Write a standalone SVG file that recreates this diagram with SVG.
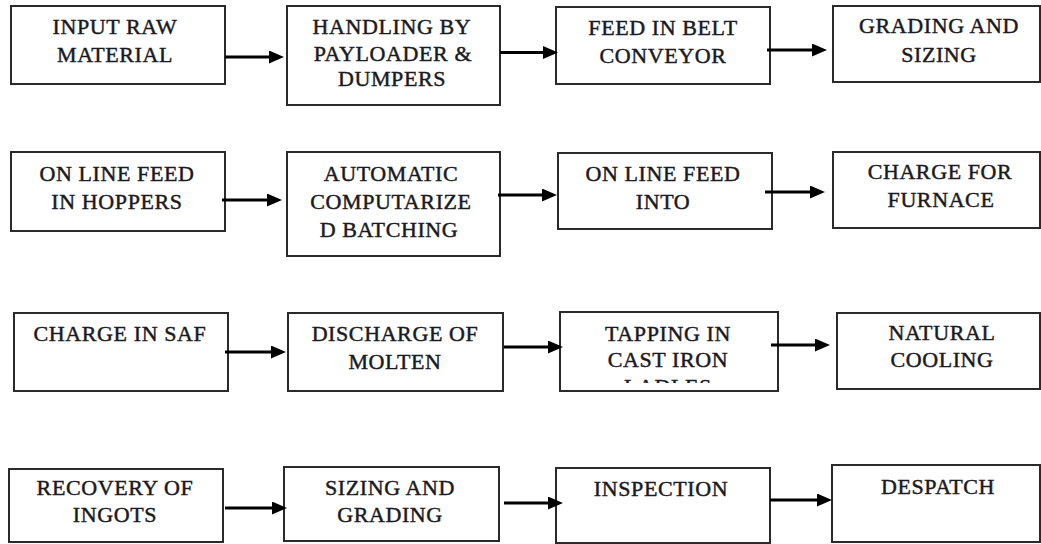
<svg xmlns="http://www.w3.org/2000/svg" width="1041" height="544" viewBox="0 0 1041 544">
  <style>
    .box { fill: #ffffff; stroke: #2a2a2a; stroke-width: 2; }
    .lbl { font-family: "Liberation Serif", "Times New Roman", serif; font-weight: normal; font-size: 22px; letter-spacing: 0.6px; fill: #1a1a22; stroke: #1a1a22; stroke-width: 0.45; text-anchor: middle; }
    .wire { fill: none; stroke: #000000; stroke-width: 3; marker-end: url(#head); }
  </style>
  <defs>
    <marker id="head" markerUnits="userSpaceOnUse" markerWidth="16" markerHeight="14" refX="3" refY="6.5" orient="auto">
      <path d="M0,0 L15,6.5 L0,13 Z" fill="#000000"/>
    </marker>
    <clipPath id="clipTapping">
      <rect x="560" y="312" width="218" height="71"/>
    </clipPath>
  </defs>

  <rect width="1041" height="544" fill="#ffffff"/>

  <!-- Row 1 -->
  <g id="input-raw-material">
    <rect class="box" x="11" y="6" width="214" height="78"/>
    <text class="lbl" x="115" y="34">INPUT RAW</text>
    <text class="lbl" x="115" y="62">MATERIAL</text>
  </g>
  <g id="handling-by-payloader">
    <rect class="box" x="287" y="6" width="213" height="99"/>
    <text class="lbl" x="392" y="34">HANDLING BY</text>
    <text class="lbl" x="393" y="61">PAYLOADER &amp;</text>
    <text class="lbl" x="392" y="86">DUMPERS</text>
  </g>
  <g id="feed-in-belt-conveyor">
    <rect class="box" x="556" y="7" width="214" height="77"/>
    <text class="lbl" x="663" y="35">FEED IN BELT</text>
    <text class="lbl" x="663" y="63">CONVEYOR</text>
  </g>
  <g id="grading-and-sizing">
    <rect class="box" x="833" y="6" width="207" height="76"/>
    <text class="lbl" x="939" y="33">GRADING AND</text>
    <text class="lbl" x="939" y="62">SIZING</text>
  </g>

  <!-- Row 2 -->
  <g id="online-feed-hoppers">
    <rect class="box" x="11" y="152" width="214" height="79"/>
    <text class="lbl" x="117" y="181">ON LINE FEED</text>
    <text class="lbl" x="117" y="209">IN HOPPERS</text>
  </g>
  <g id="automatic-batching">
    <rect class="box" x="287" y="152" width="213" height="104"/>
    <text class="lbl" x="391" y="181">AUTOMATIC</text>
    <text class="lbl" x="391" y="209">COMPUTARIZE</text>
    <text class="lbl" x="389" y="237">D BATCHING</text>
  </g>
  <g id="online-feed-into">
    <rect class="box" x="558" y="153" width="214" height="76"/>
    <text class="lbl" x="663" y="181">ON LINE FEED</text>
    <text class="lbl" x="663" y="209">INTO</text>
  </g>
  <g id="charge-for-furnace">
    <rect class="box" x="833" y="152" width="207" height="76"/>
    <text class="lbl" x="940" y="179">CHARGE FOR</text>
    <text class="lbl" x="941" y="207">FURNACE</text>
  </g>

  <!-- Row 3 -->
  <g id="charge-in-saf">
    <rect class="box" x="14" y="313" width="214" height="78"/>
    <text class="lbl" x="120" y="341">CHARGE IN SAF</text>
  </g>
  <g id="discharge-of-molten">
    <rect class="box" x="288" y="313" width="215" height="78"/>
    <text class="lbl" x="395" y="341">DISCHARGE OF</text>
    <text class="lbl" x="395" y="369">MOLTEN</text>
  </g>
  <g id="tapping-in-ladles">
    <rect class="box" x="560" y="312" width="218" height="79"/>
    <g clip-path="url(#clipTapping)">
      <text class="lbl" x="668" y="341">TAPPING IN</text>
      <text class="lbl" x="668" y="367">CAST IRON</text>
      <text class="lbl" x="668" y="394">LADLES</text>
    </g>
  </g>
  <g id="natural-cooling">
    <rect class="box" x="837" y="313" width="203" height="76"/>
    <text class="lbl" x="942" y="340">NATURAL</text>
    <text class="lbl" x="942" y="367">COOLING</text>
  </g>

  <!-- Row 4 -->
  <g id="recovery-of-ingots">
    <rect class="box" x="9" y="469" width="214" height="73"/>
    <text class="lbl" x="115" y="495">RECOVERY OF</text>
    <text class="lbl" x="115" y="522">INGOTS</text>
  </g>
  <g id="sizing-and-grading">
    <rect class="box" x="284" y="467" width="215" height="74"/>
    <text class="lbl" x="390" y="495">SIZING AND</text>
    <text class="lbl" x="390" y="522">GRADING</text>
  </g>
  <g id="inspection">
    <rect class="box" x="556" y="468" width="214" height="75"/>
    <text class="lbl" x="661" y="496">INSPECTION</text>
  </g>
  <g id="despatch">
    <rect class="box" x="832" y="465" width="208" height="77"/>
    <text class="lbl" x="938" y="494">DESPATCH</text>
  </g>

  <!-- Connectors: each line stops 12px short of the tip; the marker supplies the rest -->
  <g id="connectors">
    <path class="wire" d="M225,57 H272"/>
    <path class="wire" d="M500,52.5 H546"/>
    <path class="wire" d="M767,50 H815"/>

    <path class="wire" d="M222,200 H270"/>
    <path class="wire" d="M498,195 H545"/>
    <path class="wire" d="M765,192 H813"/>

    <path class="wire" d="M225,352 H274"/>
    <path class="wire" d="M504,347 H551"/>
    <path class="wire" d="M771,345 H818"/>

    <path class="wire" d="M225,508 H275"/>
    <path class="wire" d="M504,503 H551"/>
    <path class="wire" d="M770,500 H820"/>
  </g>
</svg>
